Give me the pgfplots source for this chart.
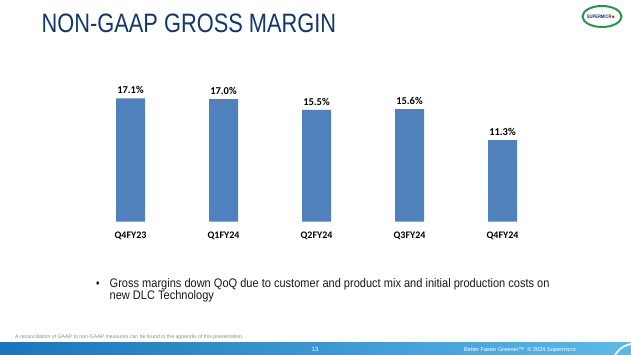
\documentclass[border=0pt]{standalone}
\usepackage{pgfplots}
\pgfplotsset{compat=1.18}
\usepackage{fontspec}
\setmainfont{Liberation Sans}
\newfontfamily\narrow[FakeStretch=0.82]{Liberation Sans}
\newfontfamily\bodynarrow[FakeStretch=0.89]{Liberation Sans}
\newfontfamily\carlito{Carlito}
\definecolor{titleblue}{RGB}{18,55,110}
\definecolor{barblue}{RGB}{79,129,189}
\definecolor{footdark}{RGB}{27,117,187}
\definecolor{footlight}{RGB}{92,185,232}
\definecolor{logogreen}{RGB}{40,150,70}
\definecolor{logoblue}{RGB}{25,50,120}
\begin{document}
\begin{tikzpicture}[x=1pt,y=1pt]
\useasboundingbox (0,0) rectangle (631,355);
\fill[white] (0,0) rectangle (631,355);
% title
\node[anchor=base west,inner sep=0,text=titleblue] at (41.5,322.3) {\narrow\fontsize{26.6}{30}\selectfont NON-GAAP GROSS MARGIN};
% logo
\draw[logogreen,line width=2pt] (602,338.5) ellipse (19.5 and 10.5);
\node[text=logoblue,inner sep=0] at (601,338.5) {\narrow\fontsize{5}{6}\selectfont\bfseries SUPERMICR\textcolor{red}{$\bullet$}};
% chart
\begin{axis}[
  at={(84pt,133.3pt)}, anchor=south west,
  scale only axis, width=465pt, height=144.3pt,
  xmin=-0.5, xmax=4.5, ymin=0, ymax=20,
  axis line style={draw=none},
  ytick=\empty,
  xtick={0,1,2,3,4},
  xticklabels={Q4FY23,Q1FY24,Q2FY24,Q3FY24,Q4FY24},
  major tick length=0pt,
  xticklabel style={font=\carlito\bfseries\fontsize{10}{12}\selectfont, text=black, yshift=-7pt},
  /pgf/number format/assume math mode=true,
  clip=false,
]
\addplot[ybar, bar width=29pt, fill=barblue, draw=none,
  nodes near coords={\pgfmathprintnumber[fixed,fixed zerofill,precision=1,assume math mode=true]{\pgfplotspointmeta}\%},
  every node near coord/.append style={font=\carlito\bfseries\fontsize{10.5}{12}\selectfont, text=black, yshift=1pt}]
  coordinates {(0,17.1) (1,17.0) (2,15.5) (3,15.6) (4,11.3)};
\end{axis}
% bullet
\node[anchor=base west,inner sep=0,text=black!90] at (96,67.5) {\narrow\fontsize{12}{12}\selectfont\textbullet};
\node[anchor=base west,inner sep=0,text=black!90] at (109.5,67.5) {\bodynarrow\fontsize{12.4}{12}\selectfont Gross margins down QoQ due to customer and product mix and initial production costs on};
\node[anchor=base west,inner sep=0,text=black!90] at (109.5,55.5) {\bodynarrow\fontsize{12.4}{12}\selectfont new DLC Technology};
% footnote
\node[anchor=base west,inner sep=0,text=black!45] at (15,16) {\fontsize{5.2}{6}\selectfont A reconciliation of GAAP to non-GAAP measures can be found in the appendix of this presentation.};
% footer band
\shade[left color=footdark,right color=footlight] (0,0) rectangle (631,12);
\fill[white] (631,12) .. controls (622,10) and (617,5) .. (614,0) -- (616,0) .. controls (620,6) and (625,9) .. (631,10) -- cycle;
\node[text=white,inner sep=0] at (315,6) {\fontsize{6}{7}\selectfont 13};
\node[anchor=base west,inner sep=0,text=white] at (464,3.8) {\fontsize{5.6}{6}\selectfont Better Faster Greener\texttrademark\ \ \copyright\ 2024 Supermicro};
\end{tikzpicture}
\end{document}
